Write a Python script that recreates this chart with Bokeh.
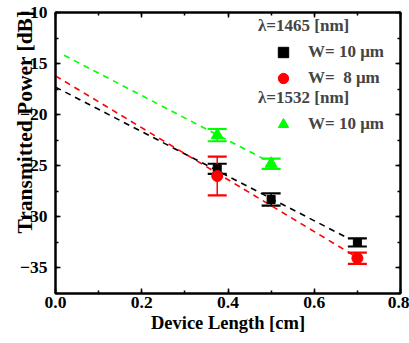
from bokeh.plotting import figure
from bokeh.models import (ColumnDataSource, Whisker, TeeHead, LinearAxis, Legend,
                          LegendItem, SingleIntervalTicker, Range1d, Title,
                          CustomJSTickFormatter)
from bokeh.embed import file_html
from bokeh.resources import INLINE

# Measured transmitted power vs device length
w10_1465_len = [0.375, 0.5, 0.7]
w10_1465_pow = [-25.3, -28.3, -32.5]
w10_1465_err = [0.5, 0.6, 0.4]

w8_1465_len = [0.375, 0.7]
w8_1465_pow = [-26.0, -34.05]
w8_1465_err = [1.9, 0.55]

w10_1532_len = [0.375, 0.5]
w10_1532_pow = [-22.0, -24.8]
w10_1532_err = [0.6, 0.5]

# Linear fits: (slope dB/cm, intercept dB, x start, x end)
fit_w10_1465 = (-21.8, -17.3, 0.0, 0.68)
fit_w8_1465 = (-25.4, -16.2, 0.0, 0.70)
fit_w10_1532 = (-21.9, -13.75, 0.02, 0.51)

BLACK = "#000000"
RED = "#ff0000"
GREEN = "#00ff00"
FONT = "Liberation Serif"

p = figure(width=409, height=343, output_backend="svg", toolbar_location=None,
           x_range=Range1d(0.0, 0.8), y_range=Range1d(-37.5, -10.0),
           min_border_left=55, min_border_right=9, min_border_top=12,
           min_border_bottom=50)
p.background_fill_color = "white"
p.border_fill_color = "white"
p.grid.visible = False
p.outline_line_color = BLACK
p.outline_line_width = 2


def style_axis(ax, show_labels=True):
    ax.axis_line_width = 2
    ax.major_tick_in = 5
    ax.major_tick_out = 0
    ax.minor_tick_in = 3
    ax.minor_tick_out = 0
    ax.major_tick_line_width = 1.5
    ax.minor_tick_line_width = 1.5
    ax.major_label_text_font = FONT
    ax.major_label_text_font_style = "bold"
    ax.major_label_text_font_size = "17.5px"
    ax.major_label_text_color = BLACK
    ax.axis_label_text_font = FONT
    ax.axis_label_text_font_style = "bold"
    ax.axis_label_text_font_size = "18.5px"
    ax.axis_label_text_color = BLACK
    if not show_labels:
        ax.formatter = CustomJSTickFormatter(code="return '';")
        ax.major_label_standoff = 0


p.xaxis.ticker = SingleIntervalTicker(interval=0.2, num_minor_ticks=2)
p.yaxis.ticker = SingleIntervalTicker(interval=5, num_minor_ticks=2)
p.xaxis.formatter = CustomJSTickFormatter(code="return tick.toFixed(1);")
style_axis(p.xaxis[0])
style_axis(p.yaxis[0])
p.xaxis.axis_label = "Device Length [cm]"
p.xaxis.major_label_standoff = 3
p.xaxis.axis_label_standoff = 2
p.yaxis.major_label_standoff = 8

top = LinearAxis(ticker=SingleIntervalTicker(interval=0.2, num_minor_ticks=2))
right = LinearAxis(ticker=SingleIntervalTicker(interval=5, num_minor_ticks=2))
style_axis(top, False)
style_axis(right, False)
p.add_layout(top, "above")
p.add_layout(right, "right")

# Vertical axis title, anchored toward the top and pulled over the tick labels
ytitle = Title(text="Transmitted Power [dB]", align="right", offset=-2,
               vertical_align="bottom", standoff=-39,
               text_font=FONT, text_font_style="bold",
               text_font_size="21.5px", text_color=BLACK)
p.add_layout(ytitle, "left")

# Dashed fit lines
for (m, b, x0, x1), c in [(fit_w10_1465, BLACK), (fit_w8_1465, RED), (fit_w10_1532, GREEN)]:
    p.line([x0, x1], [b + m * x0, b + m * x1], line_color=c, line_width=1.6,
           line_dash="6 5")


def series(xs, ys, es, color, marker, size):
    src = ColumnDataSource(dict(x=xs, y=ys,
                                lo=[y - e for y, e in zip(ys, es)],
                                hi=[y + e for y, e in zip(ys, es)]))
    w = Whisker(base="x", lower="lo", upper="hi", source=src,
                line_color=color, line_width=1.5,
                upper_head=TeeHead(size=19, line_color=color, line_width=2.2),
                lower_head=TeeHead(size=19, line_color=color, line_width=2.2))
    p.add_layout(w)
    return p.scatter("x", "y", source=src, marker=marker, size=size,
                     fill_color=color, line_color=color)


r_black = series(w10_1465_len, w10_1465_pow, w10_1465_err, BLACK, "square", 8)
r_red = series(w8_1465_len, w8_1465_pow, w8_1465_err, RED, "circle", 11)
r_green = series(w10_1532_len, w10_1532_pow, w10_1532_err, GREEN, "triangle", 12)


def make_legend(title, items, loc):
    lg = Legend(items=items, title=title, location=loc, padding=0, margin=0,
                spacing=-2, glyph_width=50, glyph_height=26, label_height=26,
                label_standoff=0, title_standoff=3,
                border_line_alpha=0, background_fill_alpha=0)
    lg.title_text_font = FONT
    lg.title_text_font_style = "bold"
    lg.title_text_font_size = "17px"
    lg.label_text_font = FONT
    lg.label_text_font_style = "bold"
    lg.label_text_font_size = "17px"
    p.add_layout(lg)


make_legend("λ=1465 [nm]",
            [LegendItem(label="W= 10 μm", renderers=[r_black]),
             LegendItem(label="W=\u00a0\u00a08 μm", renderers=[r_red])],
            (203, 202))
make_legend("λ=1532 [nm]",
            [LegendItem(label="W= 10 μm", renderers=[r_green])],
            (203, 156))

open("out.html", "w").write(file_html(p, INLINE))
